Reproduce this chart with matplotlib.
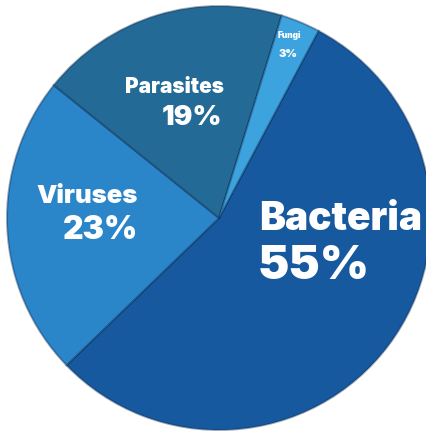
import matplotlib
matplotlib.use("Agg")
import matplotlib.pyplot as plt

# infection causes, share in percent
labels = ["Bacteria", "Viruses", "Parasites", "Fungi"]
shares = [55, 23, 19, 3]
colors = ["#17599f", "#2a86c9", "#236b96", "#3ca3de"]

W, H = 427, 432
fig = plt.figure(figsize=(W / 100, H / 100), dpi=100)
ax = fig.add_axes([0, 0, 1, 1])

cx, cy, r = 219, H - 218, 212
wedges, _ = ax.pie(shares, colors=colors, startangle=62, counterclock=False,
                   center=(cx, cy), radius=r,
                   wedgeprops=dict(linewidth=0))
# soft dark seams between the slices
for w in wedges:
    w.set_edgecolor((0.03, 0.15, 0.3, 0.4))
    w.set_linewidth(1.4)

ax.set_xlim(0, W)
ax.set_ylim(0, H)
ax.set_aspect("equal")
ax.axis("off")

font = dict(family=["Inter", "DejaVu Sans"], color="white", fontweight="black")


def label(x, y, s, size, ha):
    ax.text(x, H - y, s, fontsize=size, ha=ha, va="baseline", **font)


label(259, 230, labels[0], 28, "left")
label(258, 279, f"{shares[0]}%", 34, "left")
label(138, 203, labels[1], 18.5, "right")
label(138, 239, f"{shares[1]}%", 23, "right")
label(224, 93, labels[2], 15, "right")
label(222, 125, f"{shares[2]}%", 20, "right")
label(289, 38, labels[3], 6, "center")
label(288, 57, f"{shares[3]}%", 8, "center")

fig.savefig("out.png", dpi=100)
